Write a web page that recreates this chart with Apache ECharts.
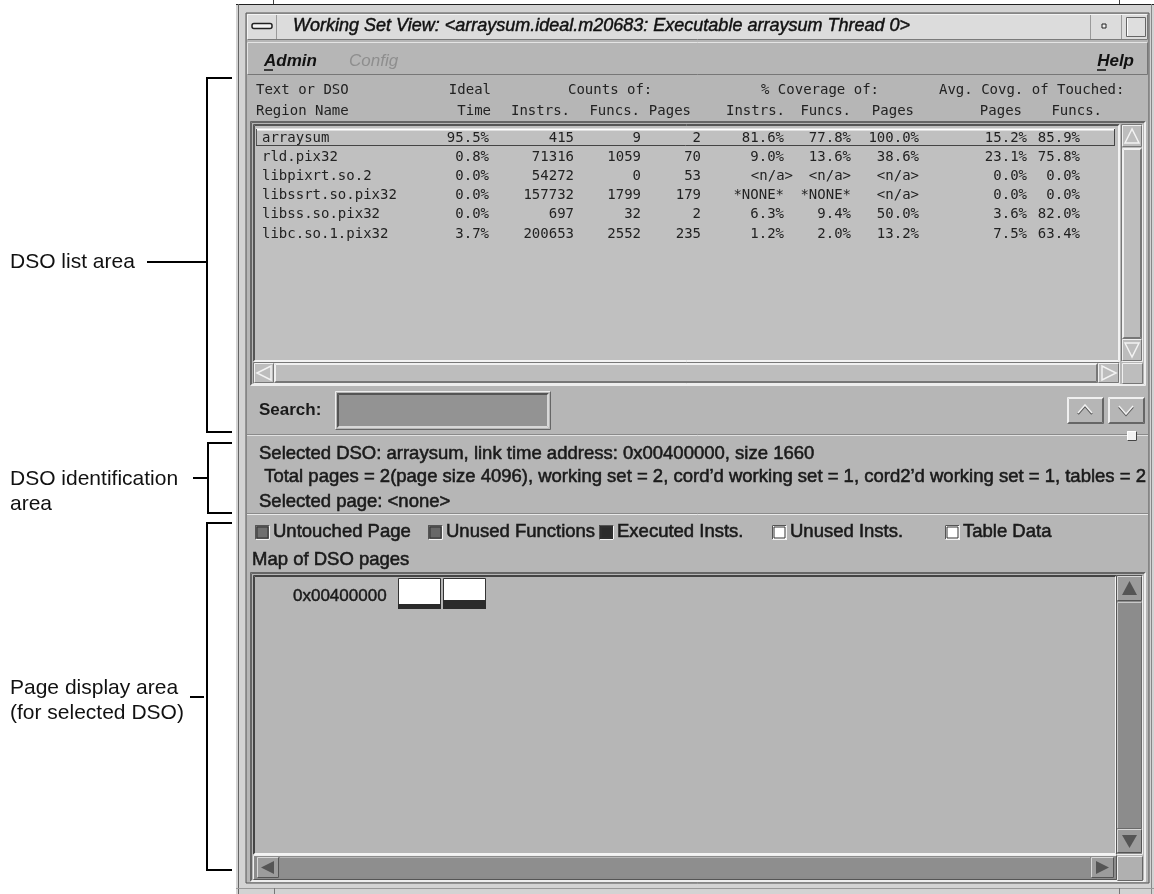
<!DOCTYPE html>
<html>
<head>
<meta charset="utf-8">
<script src="https://cdn.jsdelivr.net/npm/echarts@6/dist/echarts.min.js"></script>
<style>
html, body { margin: 0; padding: 0; background: #fff; }
#main { width: 1154px; height: 894px; }
</style>
</head>
<body>
<div id="main"></div>
<script>
// table data (DSO list)
const regionNames = ['arraysum', 'rld.pix32', 'libpixrt.so.2', 'libssrt.so.pix32', 'libss.so.pix32', 'libc.so.1.pix32'];
const idealTime = ['95.5%', '0.8%', '0.0%', '0.0%', '0.0%', '3.7%'];
const countInstrs = [415, 71316, 54272, 157732, 697, 200653];
const countFuncs = [9, 1059, 0, 1799, 32, 2552];
const countPages = [2, 70, 53, 179, 2, 235];
const covInstrs = ['81.6%', '9.0%', '<n/a>', '*NONE*', '6.3%', '1.2%'];
const covFuncs = ['77.8%', '13.6%', '<n/a>', '*NONE*', '9.4%', '2.0%'];
const covPages = ['100.0%', '38.6%', '<n/a>', '<n/a>', '50.0%', '13.2%'];
const avgPages = ['15.2%', '23.1%', '0.0%', '0.0%', '3.6%', '7.5%'];
const avgFuncs = ['85.9%', '75.8%', '0.0%', '0.0%', '82.0%', '63.4%'];

// header / info texts
const headerTop = ['Text or DSO', 'Ideal', 'Counts of:', '% Coverage of:', 'Avg. Covg. of Touched:'];
const headerBottom = ['Region Name', 'Time', 'Instrs.', 'Funcs.', 'Pages', 'Instrs.', 'Funcs.', 'Pages', 'Pages', 'Funcs.'];
const infoLines = [
  'Selected DSO: arraysum, link time address: 0x00400000, size 1660',
  ' Total pages = 2(page size 4096), working set = 2, cord\u2019d working set = 1, cord2\u2019d working set = 1, tables = 2',
  'Selected page: <none>'
];

// page map legend + pages
const legendNames = ['Untouched Page', 'Unused Functions', 'Executed Insts.', 'Unused Insts.', 'Table Data'];
const legendColors = ['#6f6f6f', '#686868', '#2c2c2c', '#ffffff', '#ffffff'];
const pageAddress = '0x00400000';
const pageExecShare = [0.17, 0.3];

// annotation labels on the left
const areaLabels = [['DSO list area'], ['DSO identification', 'area'], ['Page display area', '(for selected DSO)']];

const BG = '#b6b6b6';
const LIST_BG = '#c0c0c0';
const MONO = '14px "DejaVu Sans Mono"';
const SANS = '18.5px "Liberation Sans"';
const INK = { stroke: '#1a1a1a', lineWidth: 0.55 };

const els = [];
function rect(x, y, w, h, fill, stroke) {
  els.push({ type: 'rect', shape: { x: x, y: y, width: w, height: h }, style: { fill: fill, stroke: stroke || null, lineWidth: 1 } });
}
function line(x1, y1, x2, y2, stroke, w) {
  els.push({ type: 'line', shape: { x1: x1, y1: y1, x2: x2, y2: y2 }, style: { stroke: stroke, lineWidth: w || 1 } });
}
function text(t, x, y, font, fill, align, extra) {
  els.push({ type: 'text', x: x, y: y, style: Object.assign({ text: t, font: font, fill: fill || '#151515', textAlign: align || 'left', textVerticalAlign: 'middle' }, extra || {}) });
}
function poly(points, stroke, fill, w) {
  els.push({ type: 'polygon', shape: { points: points }, style: { stroke: stroke || null, fill: fill || null, lineWidth: w || 1 } });
}
function polyline(points, stroke, w) {
  els.push({ type: 'polyline', shape: { points: points }, style: { stroke: stroke, fill: null, lineWidth: w || 1 } });
}
// raised (hi top-left, lo bottom-right) or sunken when swapped
function bevel(x, y, w, h, fill, hi, lo, t) {
  rect(x, y, w, h, fill);
  for (let i = 0; i < t; i++) {
    line(x + i + 0.5, y + i + 0.5, x + w - i - 0.5, y + i + 0.5, hi);
    line(x + i + 0.5, y + i + 0.5, x + i + 0.5, y + h - i - 0.5, hi);
    line(x + i + 0.5, y + h - i - 0.5, x + w - i - 0.5, y + h - i - 0.5, lo);
    line(x + w - i - 0.5, y + i + 0.5, x + w - i - 0.5, y + h - i - 0.5, lo);
  }
}

// ---- window frame ----
rect(236, 4, 918, 890, '#d3d3d3');
line(236, 4.5, 1154, 4.5, '#222');
line(238.5, 4, 238.5, 894, '#666');
line(1151.5, 4, 1151.5, 894, '#888');
line(236, 888.5, 1154, 888.5, '#999');
line(273.5, 0, 273.5, 4, '#444');
line(1119.5, 0, 1119.5, 4, '#444');
line(274.5, 888, 274.5, 894, '#777');
line(1119.5, 888, 1119.5, 894, '#777');
rect(246, 13, 903, 870, BG, '#555');

// title bar
bevel(247, 14, 901, 26, '#dcdcdc', '#f4f4f4', '#7a7a7a', 1);
line(276.5, 15, 276.5, 39, '#9a9a9a');
els.push({ type: 'rect', shape: { x: 252, y: 23.5, width: 20, height: 5, r: 2 }, style: { fill: '#f4f4f4', stroke: '#222', lineWidth: 1.5 } });
text('Working Set View: <arraysum.ideal.m20683: Executable arraysum Thread 0>', 293, 26, 'italic 18px "Liberation Sans"', '#111', 'left', { stroke: '#111', lineWidth: 0.45 });
line(1090.5, 15, 1090.5, 39, '#9a9a9a');
line(1121.5, 15, 1121.5, 39, '#9a9a9a');
rect(1102, 24, 4, 4, '#eee', '#222');
bevel(1126, 17, 20, 20, '#dedede', '#666', '#666', 1);
line(1127.5, 18, 1127.5, 36, '#fff');

// menu bar
bevel(247, 42, 901, 33, BG, '#e4e4e4', '#777', 1);
text('Admin', 264, 61, 'italic bold 17px "Liberation Sans"', '#111');
line(264, 70, 273, 70, '#111', 1.5);
text('Config', 349, 61, 'italic 17px "Liberation Sans"', '#8e8e8e');
text('Help', 1134, 61, 'italic bold 17px "Liberation Sans"', '#111', 'right');
line(1097, 70, 1106, 70, '#111', 1.5);

// ---- column headers ----
const topX = [[256, 'left'], [491, 'right'], [568, 'left'], [761, 'left'], [939, 'left']];
headerTop.forEach((h, i) => text(h, topX[i][0], 90, MONO, '#222', topX[i][1]));
const botX = [[256, 'left'], [491, 'right'], [570, 'right'], [640, 'right'], [691, 'right'], [785, 'right'], [851, 'right'], [914, 'right'], [1022, 'right'], [1102, 'right']];
headerBottom.forEach((h, i) => text(h, botX[i][0], 111, MONO, '#222', botX[i][1]));

// ---- DSO list box ----
bevel(250, 121, 896, 265, BG, '#666', '#eee', 2);
bevel(253, 124, 867, 238, LIST_BG, '#555', '#f2f2f2', 2);
// selected row
rect(256, 129, 859, 17, LIST_BG);

const colRight = [489, 574, 641, 701, 784, 851, 919, 1027, 1080];
const rowY = i => 138 + i * 19.2;
regionNames.forEach((name, i) => {
  const y = rowY(i);
  text(name, 262, y, MONO, '#222');
  const vals = [idealTime[i], countInstrs[i], countFuncs[i], countPages[i], covInstrs[i], covFuncs[i], covPages[i], avgPages[i], avgFuncs[i]];
  vals.forEach((v, k) => {
    let x = colRight[k];
    if (k === 4 && String(v).charAt(0) === '<') x += 9;
    text(String(v), x, y, MONO, '#222', 'right');
  });
});
// selection outline drawn over the first row
line(256, 129.5, 1115, 129.5, '#ffffff', 2);
line(256.5, 129, 256.5, 146, '#555');
line(256, 145.5, 1115, 145.5, '#444');
line(1114.5, 129, 1114.5, 146, '#444');

// list vertical scrollbar
bevel(1121, 124, 22, 238, '#bcbcbc', '#777', '#eee', 1);
bevel(1122, 125, 20, 22, '#bdbdbd', '#f0f0f0', '#777', 1);
poly([[1132, 129], [1125, 143], [1139, 143]], '#f2f2f2', null, 1.5);
bevel(1122, 148, 20, 191, '#bdbdbd', '#f0f0f0', '#777', 2);
bevel(1122, 339, 20, 22, '#bdbdbd', '#f0f0f0', '#777', 1);
poly([[1132, 357], [1125, 343], [1139, 343]], '#f2f2f2', null, 1.5);
// list horizontal scrollbar
bevel(253, 362, 867, 22, '#bcbcbc', '#777', '#eee', 1);
bevel(254, 363, 20, 20, '#bdbdbd', '#f0f0f0', '#777', 1);
poly([[257, 373], [271, 366], [271, 380]], '#f2f2f2', null, 1.5);
bevel(274, 363, 824, 20, '#bdbdbd', '#f0f0f0', '#777', 2);
bevel(1098, 363, 21, 20, '#bdbdbd', '#f0f0f0', '#777', 1);
poly([[1116, 373], [1102, 366], [1102, 380]], '#f2f2f2', null, 1.5);
bevel(1122, 363, 21, 21, '#bdbdbd', '#f0f0f0', '#777', 1);

// search row
text('Search:', 259, 410, 'bold 17px "Liberation Sans"', '#1a1a1a');
bevel(335, 391, 216, 39, BG, '#eee', '#666', 1);
bevel(337, 393, 212, 35, '#939393', '#555', '#d8d8d8', 2);
bevel(1067, 397, 37, 27, BG, '#f0f0f0', '#666', 2);
polyline([[1078, 414], [1085, 406], [1092, 414]], '#555', 2);
polyline([[1078, 413], [1085, 405], [1092, 413]], '#f2f2f2', 1.5);
bevel(1108, 397, 37, 27, BG, '#f0f0f0', '#666', 2);
polyline([[1119, 407], [1126, 415], [1133, 407]], '#555', 2);
polyline([[1119, 406], [1126, 414], [1133, 406]], '#f2f2f2', 1.5);

// separator + sash
line(247, 434.5, 1148, 434.5, '#8a8a8a');
line(247, 435.5, 1148, 435.5, '#e2e2e2');
bevel(1127, 431, 10, 10, '#f2f2f2', '#fff', '#444', 1);

// ---- DSO identification ----
const infoY = [454, 477, 502];
infoLines.forEach((t, i) => text(t, 259, infoY[i], SANS, '#1a1a1a', 'left', INK));
line(247, 513.5, 1148, 513.5, '#8a8a8a');
line(247, 514.5, 1148, 514.5, '#eaeaea');

// ---- legend ----
const legendX = [255, 428, 599, 772, 945];
legendNames.forEach((n, i) => {
  const x = legendX[i];
  text(n, x + 18, 532, SANS, '#1a1a1a', 'left', INK);
});
rect(596, 522, 4, 20, BG);
legendNames.forEach((n, i) => {
  const x = legendX[i];
  bevel(x, 525, 15, 15, legendColors[i], '#555', '#f4f4f4', 1);
  rect(x + 2, 527, 11, 11, legendColors[i], '#333');
});
text('Map of DSO pages', 252, 560, SANS, '#1a1a1a', 'left', INK);

// ---- page display area ----
bevel(250, 572, 896, 310, BG, '#666', '#eee', 2);
bevel(253, 575, 864, 280, BG, '#444', '#f4f4f4', 2);
text(pageAddress, 293, 596, '17px "Liberation Sans"', '#1a1a1a', 'left', { stroke: '#1a1a1a', lineWidth: 0.45 });
const pageX0 = 398, pageW = 42, pageGap = 3, pageTop = 578, pageH = 30;
pageExecShare.forEach((s, i) => {
  const x = pageX0 + i * (pageW + pageGap);
  rect(x + 0.5, pageTop + 0.5, pageW, pageH, '#ffffff', '#333');
  const dh = Math.round(pageH * s);
  rect(x, pageTop + pageH - dh + 1, pageW + 1, dh, '#2a2a2a');
});
// vertical scrollbar
bevel(1116, 575, 27, 280, '#8c8c8c', '#555', '#eee', 1);
bevel(1117, 576, 25, 25, '#9c9c9c', '#d8d8d8', '#555', 1);
poly([[1129.5, 581], [1122, 595], [1137, 595]], null, '#555');
bevel(1117, 602, 25, 227, '#8c8c8c', '#c8c8c8', '#6a6a6a', 1);
bevel(1117, 829, 25, 24, '#9c9c9c', '#d8d8d8', '#555', 1);
poly([[1129.5, 848], [1122, 835], [1137, 835]], null, '#555');
// horizontal scrollbar
bevel(253, 855, 864, 25, '#8c8c8c', '#eee', '#555', 1);
bevel(257, 857, 22, 21, '#9c9c9c', '#d8d8d8', '#555', 1);
poly([[261, 867.5], [274, 861], [274, 874]], null, '#555');
rect(280, 857, 810, 20, '#8e8e8e');
line(280, 857.5, 1090, 857.5, '#b8b8b8');
bevel(1091, 857, 23, 21, '#9c9c9c', '#d8d8d8', '#555', 1);
poly([[1109, 867.5], [1096, 861], [1096, 874]], null, '#555');
bevel(1117, 856, 26, 25, '#b0b0b0', '#eee', '#666', 1);

// ---- annotations on the left ----
const ANN = '21px "Liberation Sans"';
// DSO list area
line(207, 78, 207, 432, '#000', 2);
line(206, 78, 232, 78, '#000', 2);
line(206, 432, 232, 432, '#000', 2);
line(147, 262, 207, 262, '#000', 2);
text(areaLabels[0][0], 10, 262, ANN, '#111');
// DSO identification area
line(208, 443, 208, 513, '#000', 2);
line(207, 443, 232, 443, '#000', 2);
line(207, 513, 232, 513, '#000', 2);
line(193, 478, 208, 478, '#000', 2);
text(areaLabels[1][0], 10, 479, ANN, '#111');
text(areaLabels[1][1], 10, 504, ANN, '#111');
// Page display area
line(207, 523, 207, 870, '#000', 2);
line(206, 523, 232, 523, '#000', 2);
line(206, 870, 232, 870, '#000', 2);
line(190, 697, 204, 697, '#000', 2);
text(areaLabels[2][0], 10, 688, ANN, '#111');
text(areaLabels[2][1], 10, 713, ANN, '#111');

const chart = echarts.init(document.getElementById('main'), null, { renderer: 'canvas' });
chart.setOption({
  animation: false,
  backgroundColor: '#ffffff',
  graphic: { elements: els }
});
</script>
</body>
</html>
